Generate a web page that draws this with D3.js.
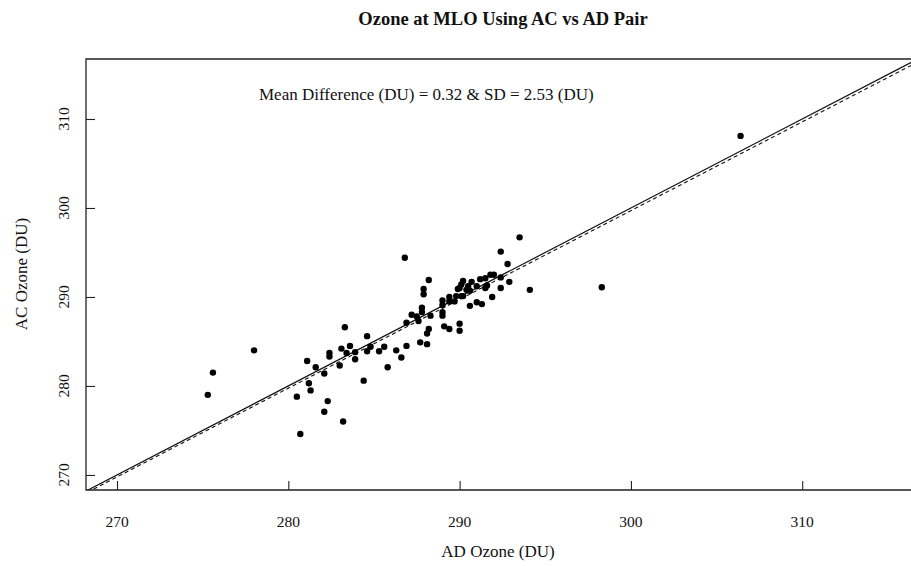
<!DOCTYPE html>
<html>
<head>
<meta charset="utf-8">
<script src="https://cdn.jsdelivr.net/npm/d3@7"></script>
<style>
  body { margin: 0; background: #fff; }
  svg { display: block; }
</style>
</head>
<body>
<svg id="chart" width="911" height="566" font-family="'Liberation Serif', 'DejaVu Serif', 'Times New Roman', serif"></svg>
<script>
// ---- data ----
const titleText = "Ozone at MLO Using AC vs AD Pair";
const annotationText = "Mean Difference (DU) = 0.32 & SD = 2.53 (DU)";
const xLabel = "AD Ozone (DU)";
const yLabel = "AC Ozone (DU)";
const xTicks = [270, 280, 290, 300, 310];
const yTicks = [270, 280, 290, 300, 310];
const xDomain = [268.19, 316.35];
const yDomain = [268.31, 316.74];

// AD ozone (x) and AC ozone (y) values
const adOzone = [
  306.4, 298.3, 294.1, 293.5, 292.4, 292.8, 292.9, 292.4, 292.4, 291.9,
  292.0, 291.8, 291.5, 291.2, 291.6, 291.5, 291.0, 290.7, 290.6, 290.5,
  290.4, 290.2, 290.1, 290.0, 290.2, 290.1, 289.8, 291.0, 291.3, 290.6,
  290.0, 290.0, 289.9, 289.4, 289.4, 289.7, 289.0, 289.0, 289.0, 289.0,
  289.1, 289.4, 286.8, 288.2, 287.9, 287.9, 287.8, 287.8, 287.2, 287.5,
  287.6, 286.9, 288.3, 288.2, 288.1, 287.7, 288.1, 286.9, 286.3, 286.6,
  285.6, 285.3, 284.8, 284.6, 284.6, 284.4, 283.9, 283.9, 283.6, 283.4,
  283.1, 283.0, 283.3, 282.4, 282.4, 283.2, 282.1, 282.3, 282.1, 281.6,
  281.1, 281.2, 281.3, 280.5, 280.7, 278.0, 275.6, 275.3, 285.8
];
const acOzone = [
  308.1, 291.1, 290.8, 296.7, 295.1, 293.7, 291.7, 292.2, 291.0, 290.0,
  292.5, 292.5, 292.1, 292.0, 291.3, 291.0, 291.2, 291.7, 290.7, 291.2,
  290.8, 291.8, 291.4, 291.0, 290.1, 290.1, 290.1, 289.4, 289.2, 289.0,
  287.0, 286.2, 290.9, 290.0, 289.5, 289.5, 289.6, 289.1, 288.3, 287.9,
  286.7, 286.4, 294.4, 291.9, 290.9, 290.3, 288.8, 288.3, 288.0, 287.8,
  287.3, 287.1, 287.9, 286.4, 285.9, 284.9, 284.7, 284.5, 284.0, 283.2,
  284.4, 283.9, 284.4, 285.6, 283.9, 280.6, 283.8, 283.0, 284.5, 283.7,
  284.2, 282.3, 286.6, 283.7, 283.3, 276.0, 281.4, 278.3, 277.1, 282.1,
  282.8, 280.3, 279.5, 278.8, 274.6, 284.0, 281.5, 279.0, 282.1
];

// reference lines: identity (solid) and fitted (dashed)
const identityLine = { intercept: 0, slope: 1 };
const fitLine = { intercept: 0.48, slope: 0.9974 };

// ---- layout ----
const svg = d3.select("#chart");
const FONT = "'Liberation Serif', 'DejaVu Serif', serif";
const margin = { left: 86, right: 911, top: 59, bottom: 490 };

const x = d3.scaleLinear().domain(xDomain).range([margin.left, margin.right]);
const y = d3.scaleLinear().domain(yDomain).range([margin.bottom, margin.top]);

svg.append("defs").append("clipPath").attr("id", "plotclip")
  .append("rect")
  .attr("x", margin.left).attr("y", margin.top)
  .attr("width", margin.right - margin.left)
  .attr("height", margin.bottom - margin.top);

function txt(sel) {
  return sel.attr("font-family", FONT).attr("fill", "#111");
}

// title
txt(svg.append("text"))
  .attr("x", 503).attr("y", 25)
  .attr("text-anchor", "middle")
  .attr("font-weight", "bold")
  .attr("font-size", 18.5)
  .text(titleText);

// annotation
txt(svg.append("text"))
  .attr("x", 259).attr("y", 100)
  .attr("font-size", 17)
  .text(annotationText);

// reference lines
const plotG = svg.append("g").attr("clip-path", "url(#plotclip)");
function linePts(l) {
  return [xDomain[0] - 1, xDomain[1] + 1].map(v => [x(v), y(l.intercept + l.slope * v)]);
}
plotG.append("path")
  .attr("d", d3.line()(linePts(identityLine)))
  .attr("stroke", "#111").attr("stroke-width", 1.2).attr("fill", "none");
plotG.append("path")
  .attr("d", d3.line()(linePts(fitLine)))
  .attr("stroke", "#111").attr("stroke-width", 1.1).attr("fill", "none")
  .attr("stroke-dasharray", "4,3");

// points
plotG.selectAll("circle.pt")
  .data(adOzone.map((v, i) => [v, acOzone[i]]))
  .enter().append("circle")
  .attr("class", "pt")
  .attr("cx", d => x(d[0]))
  .attr("cy", d => y(d[1]))
  .attr("r", 3.2)
  .attr("fill", "#000");

// axes (ticks pointing inward)
const xAxis = d3.axisTop(x).tickValues(xTicks).tickSize(9).tickFormat("");
const gx = svg.append("g").attr("transform", `translate(0,${margin.bottom})`).call(xAxis);
gx.select(".domain").remove();
gx.selectAll("line").attr("stroke", "#222").attr("stroke-width", 1.1);

const yAxis = d3.axisRight(y).tickValues(yTicks).tickSize(9).tickFormat("");
const gy = svg.append("g").attr("transform", `translate(${margin.left},0)`).call(yAxis);
gy.select(".domain").remove();
gy.selectAll("line").attr("stroke", "#222").attr("stroke-width", 1.1);

// x tick labels
txt(svg.selectAll("text.xt").data(xTicks).enter().append("text"))
  .attr("class", "xt")
  .attr("x", d => x(d)).attr("y", 527)
  .attr("text-anchor", "middle")
  .attr("font-size", 15.5)
  .text(d => d);

// y tick labels (rotated)
txt(svg.selectAll("text.yt").data(yTicks).enter().append("text"))
  .attr("class", "yt")
  .attr("transform", d => `translate(69,${y(d)}) rotate(-90)`)
  .attr("text-anchor", "middle")
  .attr("font-size", 15.5)
  .text(d => d);

// frame: left, top, bottom
svg.append("path")
  .attr("d", `M${margin.right},${margin.top}H${margin.left}V${margin.bottom}H${margin.right}`)
  .attr("fill", "none").attr("stroke", "#222").attr("stroke-width", 1.3);

// axis labels
txt(svg.append("text"))
  .attr("x", 498).attr("y", 557)
  .attr("text-anchor", "middle")
  .attr("font-size", 17)
  .text(xLabel);
txt(svg.append("text"))
  .attr("transform", `translate(27,274) rotate(-90)`)
  .attr("text-anchor", "middle")
  .attr("font-size", 17)
  .text(yLabel);
</script>
</body>
</html>
